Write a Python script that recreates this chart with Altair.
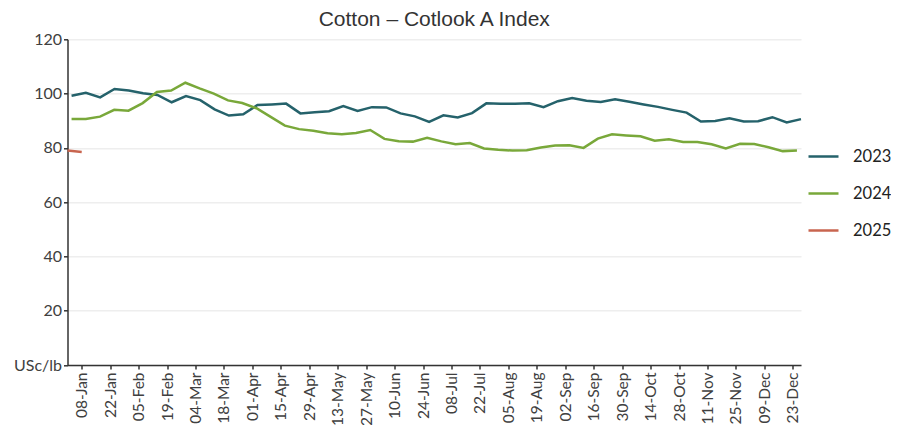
import altair as alt
import pandas as pd

years = ["2023", "2024", "2025"]
colors = ["#25626b", "#79a83a", "#c8654f"]

values_2023 = [99.2, 100.3, 98.6, 101.7, 101.1, 100.1, 99.5, 96.8, 99.1, 97.6,
               94.2, 91.9, 92.4, 95.8, 96.0, 96.3, 92.7, 93.1, 93.5, 95.4,
               93.6, 95.0, 94.9, 92.7, 91.6, 89.6, 92.0, 91.2, 92.8, 96.4,
               96.3, 96.3, 96.4, 95.0, 97.2, 98.4, 97.4, 96.9, 97.9, 97.0,
               96.0, 95.1, 94.0, 93.0, 89.7, 89.9, 90.9, 89.7, 89.8, 91.3,
               89.4, 90.6]
values_2024 = [90.6, 90.6, 91.5, 94.0, 93.7, 96.5, 100.6, 101.1, 104.0, 101.9,
               100.0, 97.5, 96.5, 94.6, 91.4, 88.2, 86.9, 86.3, 85.4, 85.0,
               85.5, 86.6, 83.3, 82.4, 82.3, 83.7, 82.4, 81.3, 81.8, 79.8,
               79.3, 79.0, 79.1, 80.1, 80.9, 81.0, 80.0, 83.4, 85.0, 84.6,
               84.3, 82.6, 83.2, 82.2, 82.2, 81.3, 79.8, 81.5, 81.4, 80.2,
               78.8, 79.0]
values_2025 = [79.0, 78.5]

# dates mapped onto a common calendar year
dates_2023 = list(pd.date_range("2024-01-03", "2024-12-27", periods=52))
dates_2024 = list(pd.date_range("2024-01-03", periods=52, freq="7D"))
dates_2025 = [pd.Timestamp("2024-01-01"), pd.Timestamp("2024-01-08")]

tick_dates = ["2024-01-08", "2024-01-22", "2024-02-05", "2024-02-19", "2024-03-04",
              "2024-03-18", "2024-04-01", "2024-04-15", "2024-04-29", "2024-05-13",
              "2024-05-27", "2024-06-10", "2024-06-24", "2024-07-08", "2024-07-22",
              "2024-08-05", "2024-08-19", "2024-09-02", "2024-09-16", "2024-09-30",
              "2024-10-14", "2024-10-28", "2024-11-11", "2024-11-25", "2024-12-09",
              "2024-12-23"]
x_domain = ["2024-01-01", "2024-12-27"]
y_ticks = [0, 20, 40, 60, 80, 100, 120]


def ms(d):
    return int(pd.Timestamp(d).value // 10**6)


rows = []
for yr, ds, vs in [("2023", dates_2023, values_2023),
                   ("2024", dates_2024, values_2024),
                   ("2025", dates_2025, values_2025)]:
    for d, v in zip(ds, vs):
        rows.append({"t": ms(d), "v": v, "year": yr})
df = pd.DataFrame(rows)

FONT = "Lato"

chart = alt.Chart(df).mark_line(strokeWidth=2.5).encode(
    x=alt.X("t:T",
            scale=alt.Scale(type="utc", domain=[ms(d) for d in x_domain], nice=False),
            axis=alt.Axis(values=[ms(d) for d in tick_dates],
                          labelExpr="utcFormat(datum.value, '%d-%b')",
                          labelAngle=270, labelAlign="right",
                          labelBaseline="middle", title=None, grid=False,
                          labelFont=FONT, labelFontSize=15.5, labelColor="#404040",
                          labelPadding=3, tickSize=4, tickColor="#333333",
                          domainColor="#333333", domainWidth=1.5, tickWidth=1.5,
                          labelOverlap=False, labelBound=False, labelFlush=False)),
    y=alt.Y("v:Q",
            scale=alt.Scale(domain=[0, 120], nice=False, zero=True),
            axis=alt.Axis(values=y_ticks, labelExpr="datum.value == 0 ? 'USc/lb' : datum.label",
                          title=None, grid=True, gridColor="#eeeeee", gridWidth=1.5,
                          labelFont=FONT, labelFontSize=16, labelColor="#404040",
                          labelPadding=2, tickSize=4, tickColor="#333333",
                          domainColor="#333333", domainWidth=1.5, tickWidth=1.5)),
    color=alt.Color("year:N", scale=alt.Scale(domain=years, range=colors),
                    legend=alt.Legend(title=None, orient="none", legendX=739.5, legendY=100.7,
                                      symbolType="stroke", symbolSize=900,
                                      symbolStrokeWidth=2.5, labelFont=FONT,
                                      labelFontSize=16.5, labelColor="#222222",
                                      labelOffset=13, rowPadding=12, padding=0)),
).properties(
    width=733.5,
    height=325.7,
    title=alt.Title("Cotton – Cotlook A Index", font="Liberation Sans", fontSize=21,
                    fontWeight="normal", color="#333333", anchor="middle",
                    frame="group", offset=1),
    autosize=alt.AutoSizeParams(type="none"),
    padding={"left": 59.5, "top": 31.3, "right": 90, "bottom": 60},
).configure_view(stroke=None)

chart.save("out.html", embed_options={"renderer": "svg", "actions": False})
